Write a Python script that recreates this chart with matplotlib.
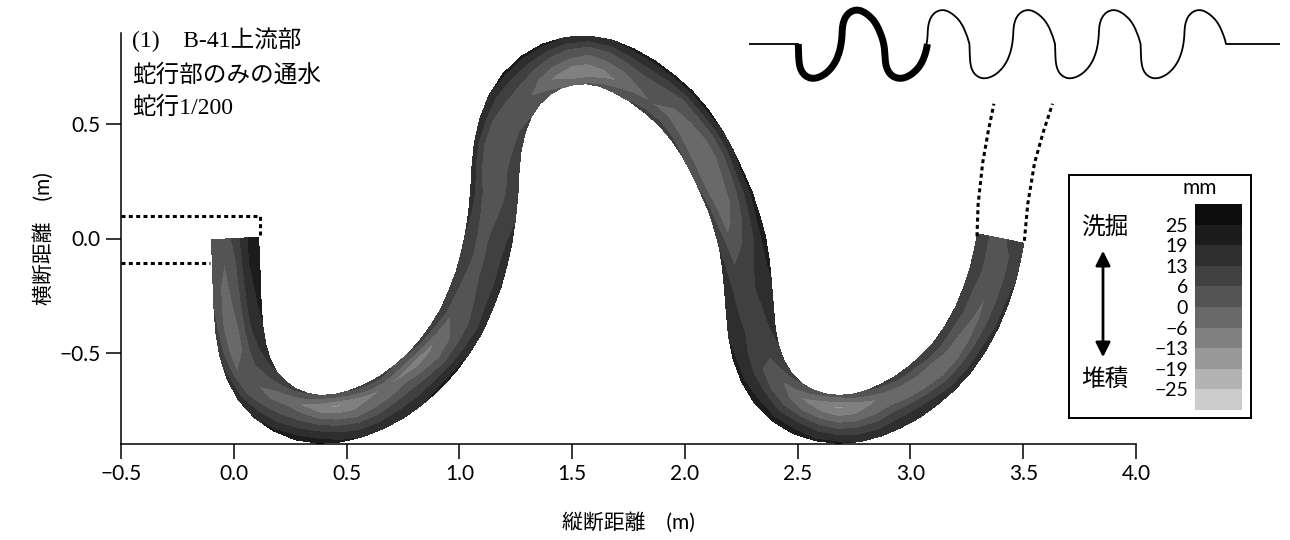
import numpy as np
import matplotlib
matplotlib.use('Agg')
import matplotlib.pyplot as plt
from matplotlib.colors import ListedColormap, BoundaryNorm
from matplotlib.cm import ScalarMappable

plt.rcParams['font.family'] = ['Lato', 'Noto Sans CJK JP', 'DejaVu Sans']

# 水路中心線 (m)
centre_x = [0.005, 0.010, 0.013, 0.017, 0.025, 0.040, 0.065, 0.105, 0.160, 0.225,
            0.300, 0.380, 0.460, 0.540, 0.620, 0.700, 0.770, 0.840, 0.905, 0.960,
            1.010, 1.050, 1.085, 1.110, 1.130, 1.145, 1.155, 1.160, 1.170, 1.190,
            1.225, 1.275, 1.340, 1.410, 1.490, 1.570, 1.650, 1.730, 1.810, 1.885,
            1.960, 2.020, 2.075, 2.120, 2.160, 2.200, 2.230, 2.255, 2.270, 2.280,
            2.288, 2.297, 2.315, 2.345, 2.390, 2.450, 2.520, 2.600, 2.680, 2.760,
            2.840, 2.910, 2.985, 3.055, 3.125, 3.190, 3.245, 3.295, 3.335, 3.365,
            3.385, 3.400]
centre_y = [0.000, -0.100, -0.200, -0.300, -0.400, -0.490, -0.570, -0.645, -0.705, -0.750,
            -0.780, -0.792, -0.787, -0.768, -0.737, -0.695, -0.645, -0.585, -0.515, -0.440,
            -0.360, -0.270, -0.180, -0.090, 0.000, 0.100, 0.200, 0.300, 0.400, 0.490,
            0.580, 0.655, 0.715, 0.755, 0.778, 0.782, 0.768, 0.735, 0.690, 0.635,
            0.570, 0.500, 0.420, 0.340, 0.255, 0.165, 0.075, -0.015, -0.110, -0.210,
            -0.310, -0.410, -0.500, -0.580, -0.655, -0.715, -0.757, -0.783, -0.792, -0.786,
            -0.765, -0.735, -0.695, -0.645, -0.585, -0.515, -0.435, -0.345, -0.250, -0.160,
            -0.075, 0.000]
half_width = 0.105
lateral = [-1.0, -0.5, 0.0, 0.5, 1.0]  # 右岸 -> 左岸 (下流向き)

# 河床変動量 (mm), one row per centreline station
bed_change = [
    [0, 2, 8, 18, 24], [2, 0, 6, 18, 24], [4, -2, 4, 16, 22], [6, -4, 2, 14, 20],
    [8, -4, 0, 12, 18], [10, -2, 0, 10, 16], [14, 0, 2, 8, 14], [16, 4, 0, 4, 12],
    [18, 8, 0, 0, 10], [20, 10, 2, -4, 8], [22, 12, 2, -8, 6], [22, 12, 0, -12, 4],
    [20, 10, -2, -14, 4], [18, 8, -4, -12, 6], [18, 8, -2, -8, 8], [18, 10, 0, -6, 8],
    [18, 10, 2, -8, 6], [20, 10, 0, -10, 6], [20, 8, -2, -8, 8], [18, 8, 0, -4, 10],
    [16, 8, 2, 0, 12], [16, 10, 4, 2, 12], [16, 10, 6, 4, 12], [16, 10, 6, 6, 12],
    [14, 10, 6, 6, 12], [12, 8, 4, 6, 14], [12, 6, 2, 6, 16], [10, 6, 0, 4, 16],
    [10, 4, 0, 4, 16], [8, 4, 2, 6, 18], [6, 2, 4, 8, 18], [4, 0, 4, 10, 20],
    [2, -4, 2, 10, 20], [0, -8, 0, 8, 20], [-2, -12, -2, 6, 18], [0, -12, -4, 4, 18],
    [2, -10, -2, 6, 18], [4, -6, 0, 8, 20], [6, -2, 2, 10, 20], [8, 0, 2, 8, 20],
    [8, 0, 0, 6, 20], [8, -2, -2, 6, 20], [6, -4, -4, 4, 18], [6, -6, -4, 4, 18],
    [6, -6, -2, 6, 20], [8, -4, 0, 8, 20], [10, -2, 2, 10, 22], [12, 2, 6, 12, 22],
    [14, 6, 8, 14, 20], [16, 10, 10, 14, 18], [18, 12, 10, 12, 16], [18, 14, 10, 10, 14],
    [20, 14, 8, 8, 12], [20, 14, 6, 4, 10], [22, 14, 4, 0, 8], [22, 12, 2, -4, 6],
    [22, 12, 0, -8, 4], [20, 10, -2, -12, 2], [20, 8, -4, -14, 2], [18, 8, -4, -12, 4],
    [18, 8, -2, -8, 6], [18, 10, 0, -4, 8], [18, 10, -2, -2, 10], [18, 8, -4, 0, 10],
    [16, 6, -6, 0, 12], [16, 6, -6, 2, 12], [16, 6, -4, 2, 12], [14, 6, -2, 4, 12],
    [14, 6, 0, 4, 12], [12, 6, 2, 6, 12], [12, 6, 2, 6, 12], [12, 8, 4, 6, 12],
]

band_edges = [-31.25, -25, -18.75, -12.5, -6.25, 0, 6.25, 12.5, 18.75, 25, 31.25]
band_labels = ['\u221225', '\u221219', '\u221213', '\u22126', '0', '6', '13', '19', '25']
band_grays = [0.80, 0.70, 0.60, 0.50, 0.41, 0.33, 0.25, 0.18, 0.11, 0.05]

# 上下流の直線水路 (点線)
inlet_top_x = [-0.5, 0.115, 0.115]
inlet_top_y = [0.10, 0.10, 0.01]
inlet_bottom_x = [-0.5, -0.106]
inlet_bottom_y = [-0.108, -0.108]
outlet_left_x = [3.295, 3.300, 3.320, 3.345, 3.370]
outlet_left_y = [0.010, 0.150, 0.330, 0.470, 0.590]
outlet_right_x = [3.505, 3.520, 3.550, 3.590, 3.630]
outlet_right_y = [-0.010, 0.150, 0.330, 0.470, 0.590]

# 水路全体の模式図
sketch_lead_x = [-1.29, 0.005]
sketch_tail_x = [11.25, 12.67]
sketch_period = 2.25
sketch_bends = 5

x_ticks = [-0.5, 0.0, 0.5, 1.0, 1.5, 2.0, 2.5, 3.0, 3.5, 4.0]
y_ticks = [-0.5, 0.0, 0.5]

fig = plt.figure(figsize=(12.9, 5.4), dpi=100)
ax = fig.add_axes([121 / 1290, 1 - 444 / 540, 1015 / 1290, 411 / 540])

cmap = ListedColormap([str(g) for g in band_grays])
cmap.set_under(str(band_grays[0]))
cmap.set_over(str(band_grays[-1]))
norm = BoundaryNorm(band_edges, cmap.N)

cx = np.array(centre_x)
cy = np.array(centre_y)
tx = np.gradient(cx)
ty = np.gradient(cy)
tl = np.hypot(tx, ty)
nx = -ty / tl
ny = tx / tl
eta = np.array(lateral) * half_width
X = cx[:, None] + nx[:, None] * eta[None, :]
Y = cy[:, None] + ny[:, None] * eta[None, :]
Z = np.array(bed_change, dtype=float)
ax.contourf(X, Y, Z, levels=band_edges, cmap=cmap, norm=norm, extend='both')

dot_style = dict(color='black', lw=2.2, linestyle=(0, (1.3, 1.1)), dash_capstyle='butt')
ax.plot(inlet_top_x, inlet_top_y, **dot_style)
ax.plot(inlet_bottom_x, inlet_bottom_y, **dot_style)
ax.plot(outlet_left_x, outlet_left_y, **dot_style)
ax.plot(outlet_right_x, outlet_right_y, **dot_style)

ax.set_xlim(-0.5, 4.0)
ax.set_ylim(-0.9, 0.9)
ax.set_xticks(x_ticks)
ax.set_yticks(y_ticks)
ax.xaxis.set_major_formatter(plt.FuncFormatter(lambda v, p: f'{v:.1f}'.replace('-', '\u2212')))
ax.yaxis.set_major_formatter(plt.FuncFormatter(lambda v, p: f'{v:.1f}'.replace('-', '\u2212')))
ax.tick_params(direction='out', length=10.5, width=1.1, labelsize=15, pad=4)
for side in ['top', 'right']:
    ax.spines[side].set_visible(False)
for side in ['left', 'bottom']:
    ax.spines[side].set_linewidth(1.1)
ax.set_xlabel('縦断距離\u3000(m)', fontsize=15, labelpad=20)
ax.set_ylabel('横断距離\u3000(m)', fontsize=15, labelpad=4)

title_font = ['Liberation Serif', 'Noto Sans CJK JP']
fig.text(132 / 1290, 1 - 40 / 540, '(1)\u3000B-41上流部', fontsize=17, family=title_font, va='center')
fig.text(132 / 1290, 1 - 75 / 540, '蛇行部のみの通水', fontsize=17, family=title_font, va='center')
fig.text(132 / 1290, 1 - 108 / 540, '蛇行1/200', fontsize=17, family=title_font, va='center')

# 模式図
sk = fig.add_axes([749 / 1290, 1 - 83 / 540, 531 / 1290, 78 / 540])
one_bend = slice(0, 47)
sx = np.concatenate([sketch_lead_x]
                    + [cx[one_bend] + k * sketch_period for k in range(sketch_bends)]
                    + [sketch_tail_x])
sy = np.concatenate([[0.0, 0.0]] + [cy[one_bend]] * sketch_bends + [[0.0, 0.0]])
sk.plot(sx, sy, color='black', lw=1.3)
sk.plot(np.concatenate([sketch_lead_x[1:], cx]), np.concatenate([[0.0], cy]),
        color='black', lw=5, solid_capstyle='butt')
sk.set_xlim(sketch_lead_x[0], sketch_tail_x[1])
sk.set_ylim(-0.9, 0.9)
sk.axis('off')

# 凡例
box = fig.add_axes([1069 / 1290, 1 - 418 / 540, 182 / 1290, 243 / 540])
box.set_xticks([])
box.set_yticks([])
for s in box.spines.values():
    s.set_linewidth(1.4)
box.set_xlim(1069, 1251)
box.set_ylim(418, 175)
box.text(1105, 228, '洗掘', fontsize=17, family=title_font, ha='center', va='center')
box.text(1105, 380, '堆積', fontsize=17, family=title_font, ha='center', va='center')
box.annotate('', xy=(1103, 248), xytext=(1103, 360),
             arrowprops=dict(arrowstyle='<|-|>', lw=2, color='black', mutation_scale=22))
box.text(1200, 188, 'mm', fontsize=15, ha='center', va='center')

cax = fig.add_axes([1195 / 1290, 1 - 410 / 540, 47 / 1290, 206 / 540])
cb = fig.colorbar(ScalarMappable(norm=norm, cmap=cmap), cax=cax)
cb.set_ticks(band_edges[1:-1], labels=band_labels)
cb.outline.set_visible(False)
cax.minorticks_off()
cax.yaxis.set_ticks_position('left')
cax.tick_params(length=0, labelsize=14, pad=5)

fig.savefig('out.png', dpi=100)
